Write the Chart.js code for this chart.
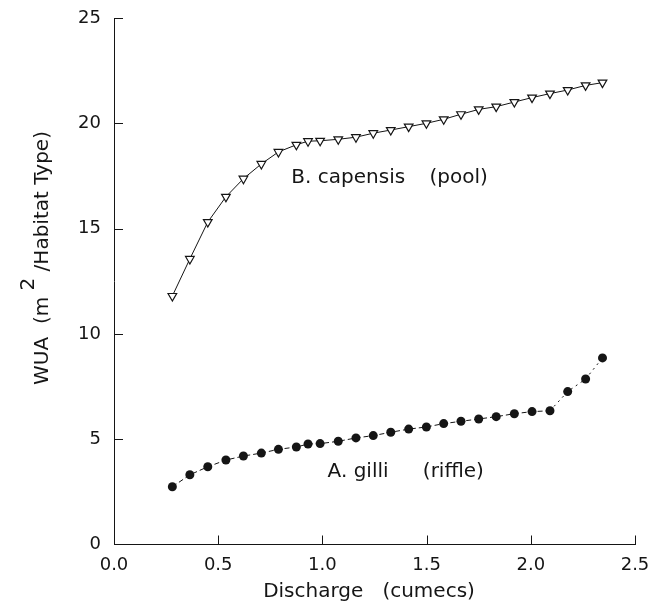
<!DOCTYPE html>
<html>
<head>
<meta charset="utf-8">
<script src="https://cdn.jsdelivr.net/npm/chart.js@4/dist/chart.umd.min.js"></script>
<style>
  body { margin: 0; background: #fff; }
  #wrap { width: 653px; height: 606px; }
</style>
</head>
<body>
<div id="wrap"><canvas id="wuaChart" width="653" height="606"></canvas></div>
<script>
'use strict';

// DATA
let discharge = [0.28, 0.364, 0.45, 0.537, 0.621, 0.707, 0.789, 0.875, 0.931, 0.989, 1.076, 1.161, 1.244,
  1.328, 1.414, 1.499, 1.582, 1.665, 1.75, 1.834, 1.921, 2.006, 2.092, 2.177, 2.263, 2.344];
let poolWua = [11.8, 13.56, 15.31, 16.51, 17.37, 18.07, 18.64, 18.98, 19.15, 19.17, 19.24, 19.34, 19.53,
  19.68, 19.84, 20.0, 20.19, 20.43, 20.66, 20.79, 21.01, 21.22, 21.41, 21.58, 21.8, 21.93];
let riffleWua = [2.74, 3.31, 3.69, 4.01, 4.2, 4.34, 4.52, 4.63, 4.77, 4.79, 4.9, 5.06, 5.17,
  5.33, 5.48, 5.58, 5.74, 5.85, 5.96, 6.07, 6.21, 6.31, 6.35, 7.26, 7.86, 8.86];

let xTicks = [0, 0.5, 1.0, 1.5, 2.0, 2.5];
let yTicks = [0, 5, 10, 15, 20, 25];

let xTitle = 'Discharge   (cumecs)';
let yTitleParts = ['WUA  (m ', '2', ' /Habitat Type)'];
// label text + where it sits, in data units
let seriesLabels = [
  { text: 'B. capensis', x: 0.851, y: 17.4 },
  { text: '(pool)', x: 1.514, y: 17.4 },
  { text: 'A. gilli', x: 1.025, y: 3.45 },
  { text: '(riffle)', x: 1.482, y: 3.45 },
];

const FONT = '"DejaVu Sans", sans-serif';
const INK = '#151515';

function toPoints(ys) {
  let pts = [];
  for (let i = 0; i < discharge.length; i++) {
    pts.push({ x: discharge[i], y: ys[i] });
  }
  return pts;
}

// draws inward ticks, axis titles and the series labels
let decorPlugin = {
  id: 'decor',
  afterDraw(chart) {
    let ctx = chart.ctx;
    let xs = chart.scales.x;
    let ys = chart.scales.y;
    let area = chart.chartArea;

    ctx.save();
    ctx.strokeStyle = INK;
    ctx.lineWidth = 1;
    ctx.beginPath();
    for (let v of xTicks) {
      if (v === 0) continue;
      let px = Math.round(xs.getPixelForValue(v)) + 0.5;
      ctx.moveTo(px, area.bottom);
      ctx.lineTo(px, area.bottom - 9);
    }
    for (let v of yTicks) {
      if (v === 0) continue;
      let py = Math.round(ys.getPixelForValue(v)) + 0.5;
      ctx.moveTo(area.left, py);
      ctx.lineTo(area.left + 9, py);
    }
    ctx.stroke();

    ctx.fillStyle = INK;
    ctx.font = '20px ' + FONT;
    ctx.textBaseline = 'middle';
    ctx.textAlign = 'left';
    for (let lab of seriesLabels) {
      ctx.fillText(lab.text, xs.getPixelForValue(lab.x), ys.getPixelForValue(lab.y));
    }

    // x title
    ctx.textAlign = 'center';
    ctx.fillText(xTitle, 369, 592);

    // y title, rotated, with raised 2
    ctx.font = '20px ' + FONT;
    let w0 = ctx.measureText(yTitleParts[0]).width;
    let w1 = ctx.measureText(yTitleParts[1]).width;
    let w2 = ctx.measureText(yTitleParts[2]).width;
    let total = w0 + w1 + w2;
    ctx.translate(43, 258);
    ctx.rotate(-Math.PI / 2);
    ctx.textAlign = 'left';
    let start = -total / 2;
    ctx.fillText(yTitleParts[0], start, 0);
    ctx.fillText(yTitleParts[1], start + w0, -14);
    ctx.fillText(yTitleParts[2], start + w0 + w1, 0);
    ctx.restore();
  },
};

let canvasElem = document.getElementById('wuaChart').getContext('2d');

let chartConfig = {
  type: 'scatter',
  data: {
    datasets: [
      {
        label: 'B. capensis (pool)',
        data: toPoints(poolWua),
        showLine: true,
        borderColor: INK,
        borderWidth: 1,
        pointStyle: 'triangle',
        rotation: 180,
        pointRadius: 5,
        pointBorderWidth: 1.2,
        pointBackgroundColor: '#fff',
        pointBorderColor: INK,
      },
      {
        label: 'A. gilli (riffle)',
        data: toPoints(riffleWua),
        showLine: true,
        borderColor: INK,
        borderWidth: 1,
        borderDash: [5, 3],
        segment: {
          borderDash: (c) => (c.p0DataIndex >= 22 ? [2, 4] : undefined),
        },
        pointStyle: 'circle',
        pointRadius: 4.5,
        pointBorderWidth: 0,
        pointBackgroundColor: INK,
        pointBorderColor: INK,
      },
    ],
  },
  options: {
    responsive: false,
    animation: false,
    layout: { padding: { left: 0, right: 18, top: 18, bottom: 0 } },
    plugins: {
      legend: { display: false },
      tooltip: { enabled: false },
    },
    scales: {
      x: {
        type: 'linear',
        min: 0,
        max: 2.5,
        afterBuildTicks: (s) => { s.ticks = xTicks.map((v) => ({ value: v })); },
        ticks: {
          color: INK,
          font: { family: FONT, size: 18 },
          padding: 10,
          callback: (v) => Number(v).toFixed(1),
        },
        grid: { display: false, drawTicks: false },
        border: { display: true, color: INK, width: 1 },
        afterFit: (s) => { s.height = 61.5; s.paddingRight = 0; s.paddingLeft = 0; },
      },
      y: {
        type: 'linear',
        min: 0,
        max: 25,
        afterBuildTicks: (s) => { s.ticks = yTicks.map((v) => ({ value: v })); },
        ticks: {
          color: INK,
          font: { family: FONT, size: 18 },
          padding: 13,
        },
        grid: { display: false, drawTicks: false },
        border: { display: true, color: INK, width: 1 },
        afterFit: (s) => { s.width = 114; s.paddingTop = 0; s.paddingBottom = 0; },
      },
    },
  },
  plugins: [decorPlugin],
};

new Chart(canvasElem, chartConfig);
</script>
</body>
</html>
